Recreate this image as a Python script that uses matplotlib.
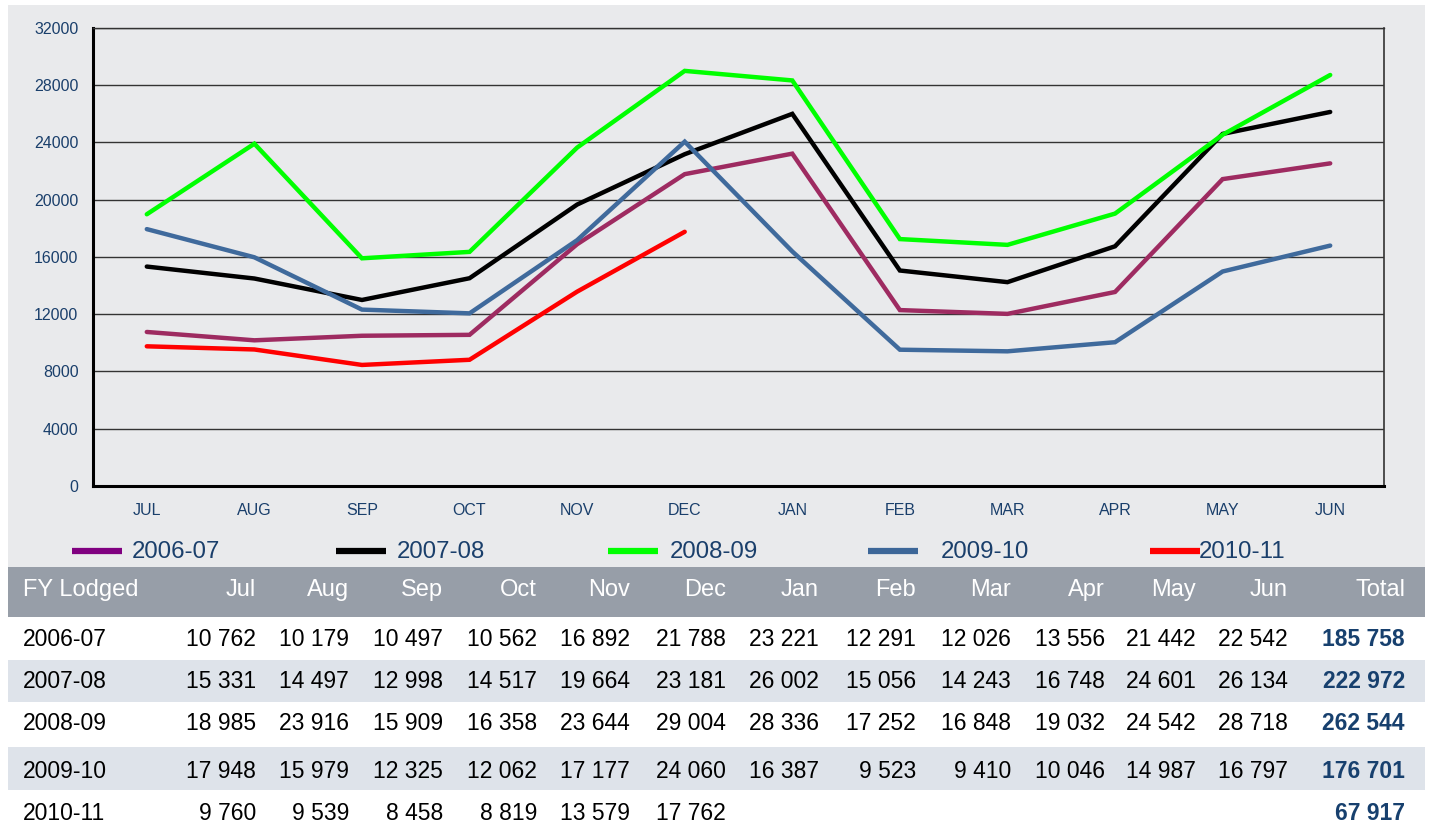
"""
Monthly lodgements by financial year -- line chart with data table below.
"""

import matplotlib
matplotlib.use("Agg")
import matplotlib.pyplot as plt
from matplotlib.patches import Rectangle
from matplotlib.lines import Line2D

plt.rcParams["font.family"] = ["Liberation Sans", "DejaVu Sans"]

W, H = 1430, 827

months_axis = ["JUL", "AUG", "SEP", "OCT", "NOV", "DEC",
               "JAN", "FEB", "MAR", "APR", "MAY", "JUN"]
months_table = ["Jul", "Aug", "Sep", "Oct", "Nov", "Dec",
                "Jan", "Feb", "Mar", "Apr", "May", "Jun"]
years = ["2006-07", "2007-08", "2008-09", "2009-10", "2010-11"]

fy_2006 = [10762, 10179, 10497, 10562, 16892, 21788, 23221, 12291, 12026, 13556, 21442, 22542]
fy_2007 = [15331, 14497, 12998, 14517, 19664, 23181, 26002, 15056, 14243, 16748, 24601, 26134]
fy_2008 = [18985, 23916, 15909, 16358, 23644, 29004, 28336, 17252, 16848, 19032, 24542, 28718]
fy_2009 = [17948, 15979, 12325, 12062, 17177, 24060, 16387, 9523, 9410, 10046, 14987, 16797]
fy_2010 = [9760, 9539, 8458, 8819, 13579, 17762]
series = [fy_2006, fy_2007, fy_2008, fy_2009, fy_2010]

line_colors = ["#9E2B61", "#000000", "#00FF00", "#3F6A9C", "#FF0000"]
legend_colors = ["#800080", "#000000", "#00FF00", "#3C6698", "#FF0000"]

TEXT_BLUE = "#1A3F6B"
PANEL_GREY = "#E9EAEC"


def fmt(v):
    return f"{v:,}".replace(",", " ")


def px(x, y):
    """pixel (from top-left) -> figure fraction"""
    return x / W, 1 - y / H


def band(top, bot, color):
    fig.patches.append(Rectangle(px(8, bot), 1417 / W, (bot - top) / H,
                                 transform=fig.transFigure, facecolor=color,
                                 edgecolor="none", zorder=-10))


fig = plt.figure(figsize=(W / 100, H / 100), dpi=100, facecolor="white")

# grey chart panel behind the axes
band(5, 567, PANEL_GREY)

ax = fig.add_axes([93 / W, 1 - 486 / H, 1291 / W, 458 / H])
ax.set_facecolor(PANEL_GREY)
x = list(range(12))
for vals, col in zip(series, line_colors):
    ax.plot(x[:len(vals)], vals, color=col, linewidth=3.2, solid_capstyle="round",
            solid_joinstyle="miter", zorder=3)

ax.set_xlim(-0.5, 11.5)
ax.set_ylim(0, 32000)
ax.set_yticks(range(0, 32001, 4000))
ax.set_xticks(x)
ax.set_xticklabels(months_axis)
ax.yaxis.grid(True, color="#333333", linewidth=1.0)
ax.set_axisbelow(True)
ax.tick_params(axis="both", length=0, labelsize=11.5, labelcolor=TEXT_BLUE)
ax.tick_params(axis="y", pad=10.5)
ax.tick_params(axis="x", pad=12)
for side in ("left", "bottom"):
    ax.spines[side].set_linewidth(2.2)
    ax.spines[side].set_color("black")
ax.spines["top"].set_linewidth(1.0)
ax.spines["top"].set_color("#333333")
ax.spines["right"].set_linewidth(1.2)
ax.spines["right"].set_color("#333333")

# legend row (irregular spacing as in the original)
handle_x = [72, 336, 608, 868, 1150]
label_x = [132, 397, 670, 941, 1199]
for hx, lx, col, yr in zip(handle_x, label_x, legend_colors, years):
    x0, y0 = px(hx, 551)
    x1, _ = px(hx + 50, 551)
    fig.lines.append(Line2D([x0, x1], [y0, y0], transform=fig.transFigure,
                            color=col, linewidth=4.5, solid_capstyle="butt"))
    fig.text(*px(lx, 552), yr, fontsize=17.3, color=TEXT_BLUE, ha="left", va="center")

# data table
col_right = [256, 349, 443, 537, 630, 726, 819, 916, 1011, 1105, 1196, 1288]
total_right = 1405
row_centers = [639, 681, 724, 771, 813]
row_bands = [(617, 660), (660, 702), (702, 747), (747, 790), (790, 827)]

band(567, 617, "#979EA8")
hy = 590
fig.text(*px(23, hy), "FY Lodged", fontsize=17, color="white", ha="left", va="center")
for cx, m in zip(col_right, months_table):
    fig.text(*px(cx, hy), m, fontsize=17, color="white", ha="right", va="center")
fig.text(*px(total_right, hy), "Total", fontsize=17, color="white", ha="right", va="center")

for i, (yr, vals) in enumerate(zip(years, series)):
    top, bot = row_bands[i]
    if i % 2 == 1:
        band(top, bot, "#DEE3EA")
    ry = row_centers[i]
    fig.text(*px(23, ry), yr, fontsize=16.5, color="black", ha="left", va="center")
    for cx, v in zip(col_right, vals):
        fig.text(*px(cx, ry), fmt(v), fontsize=16.5, color="black", ha="right", va="center")
    fig.text(*px(total_right, ry), fmt(sum(vals)), fontsize=16.5, color="#17406E",
             fontweight="bold", ha="right", va="center")

fig.savefig("out.png", dpi=100, facecolor="white")
